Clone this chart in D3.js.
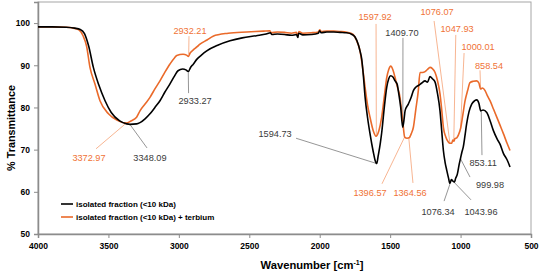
<!DOCTYPE html>
<html lang="en">
<head>
    <meta charset="UTF-8">
    <title>FTIR spectra</title>
    <script src="https://d3js.org/d3.v7.min.js"></script>
    <style>
        body { margin: 0; background: #fff; }
        svg { display: block; font-family: 'Liberation Sans', Arial, sans-serif; }
        .tick text { font-weight: bold; font-size: 8.5px; fill: #000; }
        .note { font-size: 9.2px; }
    </style>
</head>
<body>
<div id="chart"></div>
<script>
    // series: isolated fraction (<10 kDa), wavenumber / %T
    var blackWn = [4000, 3900, 3800, 3740, 3700, 3670, 3640, 3607, 3570, 3524, 3480, 3420, 3370, 3348, 3300, 3276, 3240, 3205, 3170, 3134,
        3100, 3063, 3030, 3006, 2973, 2950, 2933, 2915, 2899, 2873, 2840, 2802, 2720, 2637, 2550, 2450, 2380, 2350, 2340, 2300,
        2250, 2200, 2165, 2155, 2150, 2120, 2060, 2010, 2000, 1990, 1950, 1900, 1856, 1808, 1770, 1749, 1725, 1714, 1702, 1690,
        1678, 1660, 1643, 1620, 1607, 1595, 1585, 1570, 1560, 1540, 1524, 1510, 1496, 1480, 1465, 1450, 1440, 1425, 1411, 1400,
        1394, 1371, 1350, 1335, 1318, 1300, 1275, 1252, 1235, 1217, 1200, 1181, 1165, 1146, 1134, 1122, 1110, 1098, 1085, 1076,
        1065, 1056, 1044, 1035, 1023, 1010, 1000, 990, 981, 970, 957, 940, 921, 900, 885, 870, 857, 840, 814, 790,
        767, 740, 720, 696, 670, 649];
    var blackT = [99.1, 99.1, 99.0, 98.8, 98.5, 97.5, 94.5, 89.5, 85.5, 81.6, 78.8, 76.8, 76.1, 76.0, 76.1, 76.4, 77.3, 78.5, 80.0, 81.6,
        83.6, 85.6, 87.5, 88.7, 89.1, 88.9, 88.5, 89.6, 90.2, 91.4, 92.4, 93.4, 94.8, 95.8, 96.5, 97.0, 97.4, 97.7, 97.3, 97.4,
        97.3, 97.1, 97.3, 96.6, 97.6, 97.2, 97.3, 97.6, 98.2, 97.7, 97.9, 97.9, 97.8, 97.7, 97.3, 96.7, 94.8, 93.4, 91.5, 87.5,
        82.5, 77.5, 73.8, 69.5, 67.5, 66.7, 68.5, 71.5, 74.0, 80.5, 84.8, 86.8, 87.5, 87.2, 86.3, 85.5, 83.5, 80.0, 75.3, 77.5,
        79.2, 80.8, 82.5, 84.0, 84.8, 85.2, 85.8, 86.3, 86.0, 87.3, 86.8, 86.0, 83.5, 79.2, 74.5, 69.8, 67.0, 65.1, 63.2, 62.0,
        62.9, 62.6, 62.3, 63.2, 64.2, 66.5, 68.0, 69.5, 70.6, 73.0, 76.1, 79.0, 80.8, 81.6, 81.8, 81.0, 79.2, 79.4, 78.8, 76.8,
        74.5, 72.5, 71.3, 69.1, 67.6, 65.9];

    // series: isolated fraction (<10 kDa) + terbium
    var orangeWn = [4000, 3900, 3800, 3750, 3710, 3680, 3655, 3631, 3595, 3560, 3500, 3440, 3373, 3340, 3300, 3276, 3240, 3205, 3170, 3134,
        3100, 3063, 3030, 3015, 2970, 2945, 2932, 2920, 2899, 2870, 2850, 2800, 2757, 2650, 2518, 2400, 2353, 2345, 2300, 2250,
        2200, 2165, 2155, 2148, 2120, 2060, 2010, 2000, 1990, 1950, 1900, 1856, 1808, 1763, 1740, 1714, 1702, 1690, 1678, 1660,
        1643, 1620, 1600, 1580, 1560, 1540, 1524, 1510, 1496, 1480, 1465, 1450, 1430, 1420, 1411, 1397, 1380, 1365, 1350, 1335,
        1318, 1300, 1288, 1270, 1252, 1235, 1217, 1200, 1181, 1165, 1146, 1134, 1122, 1105, 1087, 1076, 1063, 1055, 1048, 1040,
        1027, 1015, 1000, 985, 968, 950, 933, 910, 885, 870, 858, 845, 826, 810, 791, 765, 743, 720, 696, 670,
        649];
    var orangeT = [99.1, 99.1, 99.0, 98.8, 98.4, 97.0, 94.5, 89.5, 85.5, 81.6, 78.5, 77.0, 76.3, 76.8, 77.7, 79.2, 80.8, 82.4, 84.4, 86.3,
        88.3, 90.3, 91.8, 92.3, 92.6, 92.4, 92.1, 92.9, 93.6, 94.4, 95.0, 96.0, 96.9, 97.6, 97.9, 98.1, 98.2, 97.7, 97.9, 97.8,
        97.6, 97.8, 96.9, 98.0, 97.6, 97.7, 97.9, 98.4, 98.0, 98.1, 98.1, 98.0, 97.8, 97.3, 96.0, 93.4, 91.0, 88.0, 84.8, 80.5,
        77.7, 74.5, 73.2, 74.5, 77.7, 83.0, 87.1, 89.0, 89.8, 88.9, 87.1, 85.0, 82.4, 79.5, 76.9, 73.0, 72.7, 72.8, 73.8, 75.3,
        79.5, 84.0, 88.3, 88.3, 88.5, 89.0, 89.5, 89.2, 88.3, 86.5, 83.2, 79.5, 75.3, 73.0, 71.8, 71.5, 71.5, 72.3, 72.0, 72.6,
        72.8, 73.5, 75.0, 78.0, 81.6, 84.0, 85.9, 86.2, 86.3, 85.8, 84.4, 84.6, 84.0, 82.8, 81.6, 79.5, 77.7, 75.8, 73.8, 71.5,
        69.8];

    var xTicks = [4000, 3500, 3000, 2500, 2000, 1500, 1000, 500];
    var yTicks = [50, 60, 70, 80, 90, 100];
    var seriesNames = ['isolated fraction (<10 kDa)', 'isolated fraction (<10 kDa) + terbium'];

    // peak labels: text, series, label centre [wn, T], leader line from [wn, T] to [wn, T]
    var noteText = ['2932.21', '3372.97', '1597.92', '1396.57', '1364.56', '1076.07', '1047.93', '1000.01', '858.54',
        '2933.27', '3348.09', '1594.73', '1409.70', '853.11', '999.98', '1076.34', '1043.96'];
    var noteSeries = [1, 1, 1, 1, 1, 1, 1, 1, 1, 0, 0, 0, 0, 0, 0, 0, 0];
    var noteAt = [[2921, 98.1], [3638, 68.0], [1607, 101.2], [1643, 59.7], [1359, 59.7], [1167, 102.4], [1025, 98.4], [876, 94.3], [798, 89.8],
        [2885, 81.3], [3205, 68.0], [2317, 73.5], [1416, 97.6], [840, 66.6], [791, 61.4], [1160, 55.2], [855, 55.2]];
    var noteFrom = [[2928, 96.9], [3588, 70.2], [1600, 99.8], [1558, 61.9], [1338, 62.1], [1188, 100.5], [1034, 97.2], [975, 92.9], [862, 88.8],
        [2931, 83.4], [3226, 70.4], [2168, 72.7], [1409, 96.5], [848, 68.7], [933, 63.5], [1117, 57.8], [926, 58.1]];
    var noteTo = [[2930, 92.6], [3373, 76.3], [1598, 73.5], [1397, 73.0], [1368, 72.9], [1076, 71.6], [1048, 72.2], [1000, 75.2], [858, 84.8],
        [2933, 88.2], [3348, 76.0], [1595, 66.7], [1410, 75.6], [853, 79.0], [1000, 67.8], [1076, 61.8], [1044, 62.2]];

    var lineColors = ['#000000', '#ea6a2a'];
    var textColors = ['#3a3a3a', '#f07236'];
    var leadColors = ['#8a8a8a', '#f6ad86'];

    var svgwidth = 540, svgheight = 272;
    var plotLeft = 38, plotRight = 531, plotTop = 2, plotBottom = 234;

    var svg = d3.select('#chart').append('svg')
        .attr('width', svgwidth)
        .attr('height', svgheight);

    var x_scale = d3.scaleLinear().domain([4000, 500]).range([plotLeft, plotRight]);
    var y_scale = d3.scaleLinear().domain([50, 105]).range([plotBottom, plotTop]);

    // plot frame
    svg.append('rect')
        .attr('x', plotLeft).attr('y', plotTop)
        .attr('width', plotRight - plotLeft).attr('height', plotBottom - plotTop)
        .attr('fill', 'none').attr('stroke', '#a6a6a6').attr('stroke-width', 1);

    var yAxis = svg.append('g')
        .attr('transform', `translate(${plotLeft},0)`)
        .call(d3.axisLeft(y_scale).tickValues(yTicks).tickSize(4).tickPadding(4));
    var xAxis = svg.append('g')
        .attr('transform', `translate(0,${plotBottom})`)
        .call(d3.axisBottom(x_scale).tickValues(xTicks).tickFormat(d3.format('d')).tickSize(4).tickPadding(3));
    [yAxis, xAxis].forEach(a => {
        a.select('.domain').attr('stroke', '#8c8c8c').attr('stroke-width', 1.5);
        a.selectAll('.tick line').attr('stroke', '#8c8c8c');
    });
    xAxis.selectAll('.tick text').attr('dy', '0.9em');

    // axis titles
    svg.append('text')
        .attr('transform', `translate(15,${(plotTop + plotBottom) / 2 + 10}) rotate(-90)`)
        .attr('text-anchor', 'middle')
        .style('font-size', '10.8px').style('font-weight', 'bold')
        .text('% Transmittance');
    var xt = svg.append('text')
        .attr('x', 312).attr('y', 269)
        .attr('text-anchor', 'middle')
        .style('font-size', '11.2px').style('font-weight', 'bold');
    xt.append('tspan').text('Wavenumber [cm');
    xt.append('tspan').attr('dy', -4).style('font-size', '7px').text('-1');
    xt.append('tspan').attr('dy', 4).text(']');

    // leader lines and peak labels
    var notes = noteText.map((t, i) => ({ t: t, s: noteSeries[i], at: noteAt[i], from: noteFrom[i], to: noteTo[i] }));
    svg.selectAll('line.lead')
        .data(notes).enter().append('line')
        .attr('class', 'lead')
        .attr('x1', d => x_scale(d.from[0])).attr('y1', d => y_scale(d.from[1]))
        .attr('x2', d => x_scale(d.to[0])).attr('y2', d => y_scale(d.to[1]))
        .attr('stroke', d => leadColors[d.s]).attr('stroke-width', 0.9);

    // spectra
    var line = d3.line()
        .x(d => x_scale(d[0]))
        .y(d => y_scale(d[1]))
        .curve(d3.curveMonotoneX);
    var series = [
        blackWn.map((w, i) => [w, blackT[i]]),
        orangeWn.map((w, i) => [w, orangeT[i]])
    ];
    [1, 0].forEach(k => {
        svg.append('path')
            .datum(series[k])
            .attr('d', line)
            .attr('fill', 'none')
            .attr('stroke', lineColors[k])
            .attr('stroke-width', 1.6)
            .attr('stroke-linejoin', 'round');
    });

    svg.selectAll('text.note')
        .data(notes).enter().append('text')
        .attr('class', 'note')
        .attr('x', d => x_scale(d.at[0])).attr('y', d => y_scale(d.at[1]))
        .attr('text-anchor', 'middle').attr('dominant-baseline', 'middle')
        .attr('fill', d => textColors[d.s])
        .text(d => d.t);

    // legend
    var legend = svg.append('g').attr('transform', 'translate(61,204)');
    seriesNames.forEach((name, i) => {
        var row = legend.append('g').attr('transform', `translate(0,${i * 13})`);
        row.append('line').attr('x1', 0).attr('x2', 12).attr('y1', 0).attr('y2', 0)
            .attr('stroke', lineColors[i]).attr('stroke-width', 1.6);
        row.append('text').attr('x', 15).attr('y', 0).attr('dy', '0.35em')
            .style('font-size', '8px').style('font-weight', 'bold')
            .text(name);
    });
</script>
</body>
</html>
